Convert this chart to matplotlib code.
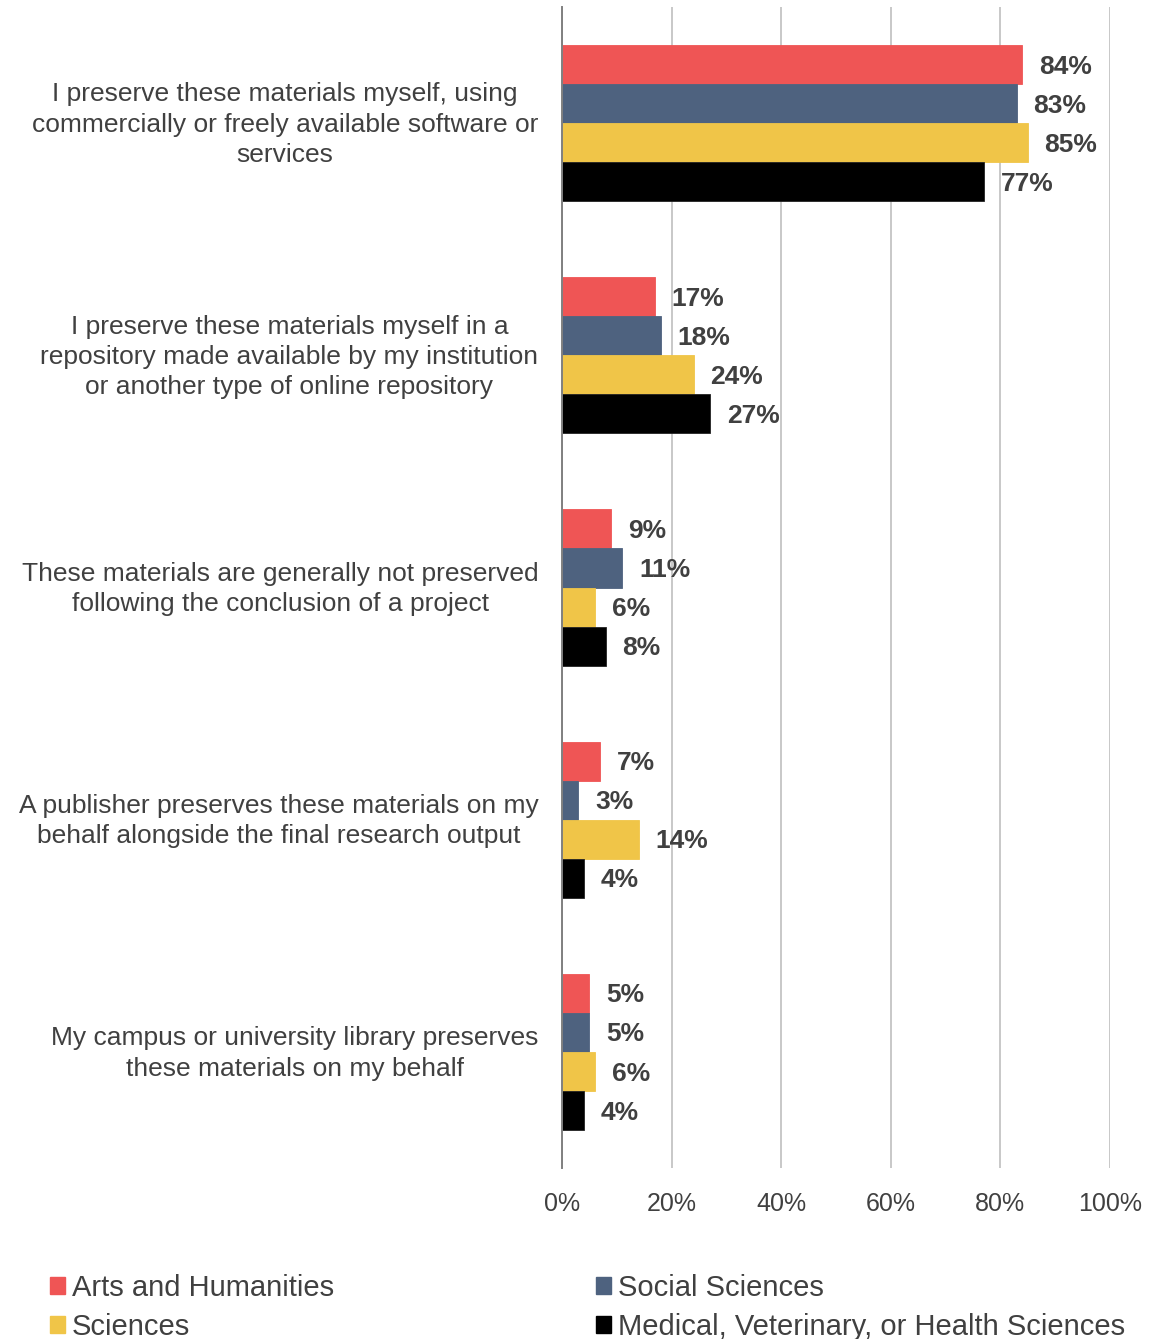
import numpy as np
import matplotlib
matplotlib.use("Agg")
import matplotlib.pyplot as plt
from matplotlib.patches import Patch
from matplotlib.transforms import ScaledTranslation

plt.rcParams['font.family'] = ['Liberation Sans', 'DejaVu Sans']

# 数据
categories = [
    "I preserve these materials myself, using\ncommercially or freely available software or\nservices",
    "I preserve these materials myself in a\nrepository made available by my institution\nor another type of online repository",
    "These materials are generally not preserved\nfollowing the conclusion of a project",
    "A publisher preserves these materials on my\nbehalf alongside the final research output",
    "My campus or university library preserves\nthese materials on my behalf",
]
series_names = ["Arts and Humanities", "Social Sciences", "Sciences",
                "Medical, Veterinary, or Health Sciences"]
arts = [84, 17, 9, 7, 5]
social = [83, 18, 11, 3, 5]
sciences = [85, 24, 6, 14, 6]
medical = [77, 27, 8, 4, 4]
xticks = [0, 20, 40, 60, 80, 100]

values = [arts, social, sciences, medical]
colors = ['#EF5555', '#4E627F', '#F0C548', '#000000']
text_color = '#404040'

W, H = 1149, 1339
fig = plt.figure(figsize=(W / 100, H / 100), dpi=100)
ax = fig.add_axes([562 / W, (H - 1168) / H, 548 / W, 1161 / H])

y = np.arange(len(categories))
bar_h = 39 / 232
for j, (vals, col) in enumerate(zip(values, colors)):
    pos = y + (j - 1.5) * bar_h
    bars = ax.barh(pos, vals, height=bar_h, color=col,
                   edgecolor='#222222' if col == '#000000' else col,
                   linewidth=0.6, zorder=3)
    for b, v in zip(bars, vals):
        ax.annotate("%d%%" % v, (b.get_width(), b.get_y() + b.get_height() / 2),
                    xytext=(12, -1.5), textcoords='offset points',
                    ha='left', va='center', fontsize=19, fontweight='bold',
                    color=text_color, zorder=4)

ax.set_xlim(0, 100)
ax.set_ylim(len(categories) - 0.5, -0.5)
ax.set_xticks(xticks)
ax.set_xticklabels(["%d%%" % t for t in xticks])
ax.set_yticks(y)
ax.set_yticklabels(categories, multialignment='center', linespacing=1.33)
ax.tick_params(axis='x', length=0, pad=17, labelsize=18, labelcolor=text_color)
ax.tick_params(axis='y', length=0, pad=17, labelsize=19, labelcolor=text_color)
# 类别标签稍微上移
shift = ScaledTranslation(0, 4 / 100, fig.dpi_scale_trans)
for lab in ax.get_yticklabels():
    lab.set_transform(lab.get_transform() + shift)

ax.grid(axis='x', color='#BFBFBF', linewidth=1.2, zorder=0)
ax.set_axisbelow(True)
for s in ['top', 'right', 'bottom']:
    ax.spines[s].set_visible(False)
ax.spines['left'].set_color('#808080')
ax.spines['left'].set_linewidth(1.4)
ax.spines['left'].set_zorder(5)

# 图例 (按列填充)
handles = [Patch(color=c) for c in colors]
order = [0, 2, 1, 3]
fig.legend([handles[i] for i in order], [series_names[i] for i in order],
           ncol=2, loc='upper left', bbox_to_anchor=(50 / W, (H - 1274) / H),
           frameon=False, fontsize=21, handlelength=0.52, handleheight=0.52,
           handletextpad=0.22, columnspacing=9.0, labelspacing=0.38,
           borderpad=0, borderaxespad=0, labelcolor=text_color)

fig.savefig("out.png", dpi=100)
